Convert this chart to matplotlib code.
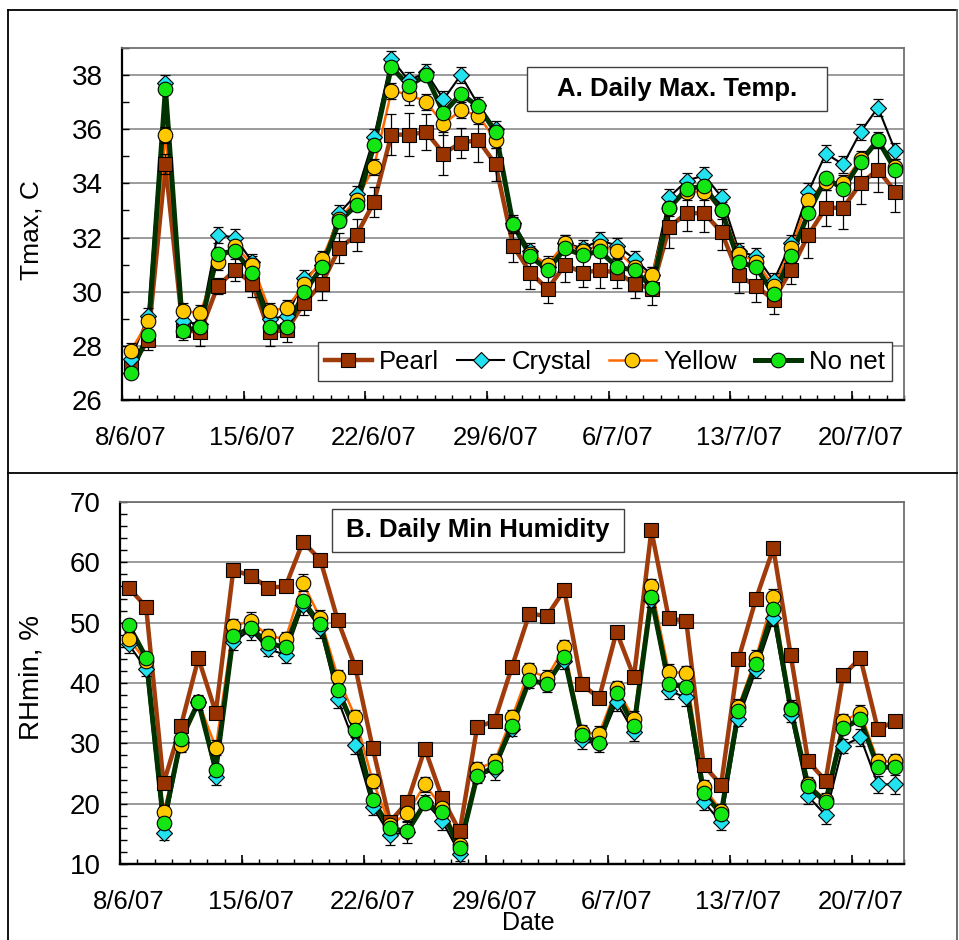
import matplotlib
matplotlib.use('Agg')
import matplotlib.pyplot as plt
from matplotlib.patches import Rectangle
from matplotlib.lines import Line2D
import numpy as np

plt.rcParams['font.family'] = ['Liberation Sans', 'DejaVu Sans']

# ---------------- data ----------------
n_days = 45  # 8/6/07 ... 22/7/07, one value per day
tick_labels = ["8/6/07", "15/6/07", "22/6/07", "29/6/07", "6/7/07", "13/7/07", "20/7/07"]
series_names = ["Pearl", "Crystal", "Yellow", "No net"]

tmax_pearl = [27.2, 28.2, 34.7, 28.6, 28.5, 30.2, 30.8, 30.3, 28.5, 28.6, 29.6, 30.3, 31.6, 32.1, 33.3,
              35.8, 35.8, 35.9, 35.1, 35.5, 35.6, 34.7, 31.7, 30.7, 30.1, 31.0, 30.7, 30.8, 30.7, 30.3,
              30.1, 32.4, 32.9, 32.9, 32.2, 30.6, 30.2, 29.7, 30.8, 32.1, 33.1, 33.1, 34.0, 34.5, 33.7]
tmax_crystal = [27.5, 29.1, 37.7, 28.9, 28.8, 32.1, 32.0, 31.1, 29.0, 29.1, 30.5, 31.0, 32.9, 33.6, 35.7,
                38.6, 37.8, 38.1, 37.1, 38.0, 36.9, 36.0, 32.55, 31.5, 30.9, 31.8, 31.6, 31.9, 31.7, 31.2,
                30.6, 33.5, 34.1, 34.3, 33.5, 31.5, 31.3, 30.4, 31.8, 33.7, 35.1, 34.7, 35.9, 36.8, 35.2]
tmax_yellow = [27.8, 28.9, 35.8, 29.3, 29.2, 31.1, 31.7, 31.0, 29.3, 29.4, 30.3, 31.2, 32.7, 33.4, 34.6,
               37.4, 37.3, 37.0, 36.2, 36.7, 36.5, 35.6, 32.45, 31.4, 31.0, 31.8, 31.5, 31.7, 31.5, 30.9,
               30.6, 33.1, 33.7, 33.7, 33.0, 31.4, 31.1, 30.2, 31.6, 33.4, 34.05, 34.0, 34.9, 35.6, 34.6]
tmax_nonet = [27.0, 28.4, 37.5, 28.55, 28.7, 31.4, 31.5, 30.7, 28.7, 28.7, 30.0, 30.9, 32.6, 33.2, 35.4,
              38.3, 37.6, 38.0, 36.6, 37.3, 36.85, 35.9, 32.5, 31.3, 30.8, 31.6, 31.35, 31.5, 30.9, 30.8,
              30.15, 33.1, 33.8, 33.9, 33.0, 31.1, 30.9, 29.9, 31.3, 32.9, 34.2, 33.8, 34.8, 35.6, 34.5]
tmax_pearl_se = [0.4, 0.37, 0.37, 0.4, 0.49, 0.3, 0.4, 0.5, 0.5, 0.45, 0.45, 0.6, 0.55, 0.6, 0.55,
                 0.75, 0.8, 0.65, 0.8, 0.55, 0.8, 0.6, 0.6, 0.6, 0.5, 0.65, 0.53, 0.67, 0.56, 0.52,
                 0.6, 0.77, 0.67, 0.69, 0.67, 0.65, 0.58, 0.52, 0.53, 0.86, 0.67, 0.79, 0.76, 0.8, 0.77]
tmax_crystal_se = [0.3, 0.3, 0.3, 0.3, 0.3, 0.3, 0.3, 0.3, 0.3, 0.3, 0.3, 0.3, 0.3, 0.3, 0.3,
                   0.3, 0.3, 0.3, 0.3, 0.3, 0.3, 0.3, 0.3, 0.3, 0.3, 0.3, 0.3, 0.3, 0.3, 0.3,
                   0.3, 0.3, 0.3, 0.3, 0.3, 0.3, 0.3, 0.3, 0.3, 0.3, 0.3, 0.3, 0.3, 0.3, 0.3]
tmax_yellow_se = [0.3, 0.3, 0.3, 0.3, 0.3, 0.3, 0.3, 0.3, 0.3, 0.3, 0.3, 0.3, 0.3, 0.3, 0.3,
                  0.3, 0.4, 0.3, 0.4, 0.3, 0.3, 0.3, 0.3, 0.3, 0.3, 0.3, 0.3, 0.3, 0.3, 0.3,
                  0.3, 0.3, 0.3, 0.3, 0.3, 0.3, 0.3, 0.3, 0.3, 0.3, 0.3, 0.3, 0.3, 0.3, 0.3]

rh_pearl = [55.8, 52.6, 23.4, 32.9, 44.1, 35.1, 58.7, 57.8, 55.8, 56.0, 63.4, 60.4, 50.4, 42.7, 29.3,
            17.0, 20.3, 29.1, 20.9, 15.4, 32.7, 33.7, 42.7, 51.5, 51.1, 55.4, 39.8, 37.5, 48.5, 41.0,
            65.3, 50.7, 50.3, 26.4, 23.1, 44.0, 53.9, 62.3, 44.6, 27.0, 23.8, 41.3, 44.1, 32.3, 33.7]
rh_crystal = [46.4, 42.3, 15.2, 30.2, 36.8, 24.5, 46.8, 48.8, 45.6, 44.7, 52.9, 49.1, 37.3, 29.7, 19.5,
              14.8, 15.3, 20.3, 17.1, 11.7, 24.6, 25.6, 32.4, 40.3, 39.9, 43.7, 30.5, 29.9, 36.8, 31.8,
              53.8, 38.7, 37.6, 20.3, 16.9, 34.0, 42.1, 50.7, 34.7, 21.2, 18.1, 29.6, 31.0, 23.2, 23.2]
rh_yellow = [47.3, 43.6, 18.7, 29.7, 36.9, 29.3, 49.4, 50.3, 47.8, 47.3, 56.6, 50.7, 41.0, 34.4, 23.8,
             16.5, 18.4, 23.2, 19.3, 13.2, 25.7, 27.0, 34.3, 42.1, 40.9, 45.9, 31.8, 31.6, 39.1, 34.1,
             56.0, 41.9, 41.6, 22.8, 18.8, 36.1, 44.2, 54.3, 35.9, 23.3, 20.6, 33.7, 35.1, 27.0, 27.0]
rh_nonet = [49.6, 44.2, 16.8, 30.7, 36.8, 25.6, 47.8, 49.1, 46.6, 45.9, 53.6, 49.7, 38.9, 32.2, 20.6,
            15.9, 15.4, 20.1, 18.6, 12.7, 24.6, 26.1, 32.9, 40.5, 39.8, 44.3, 31.3, 30.0, 38.4, 32.8,
            54.2, 39.9, 39.3, 21.8, 18.3, 35.4, 43.1, 52.2, 35.7, 22.9, 20.3, 32.5, 34.0, 26.0, 26.1]
rh_crystal_se = [1.4, 1.2, 1.2, 1.2, 1.2, 1.4, 1.4, 1.6, 1.2, 1.4, 1.6, 1.6, 1.4, 1.4, 1.4,
                 1.6, 1.8, 1.2, 1.4, 1.2, 1.2, 1.6, 1.2, 1.2, 1.4, 1.4, 1.4, 1.4, 1.4, 1.4,
                 1.2, 1.4, 1.4, 1.4, 1.2, 1.2, 1.2, 1.2, 1.2, 1.2, 1.4, 1.2, 1.4, 1.4, 1.6]
rh_yellow_se = [1.2, 1.2, 1.0, 1.2, 1.0, 1.2, 1.2, 1.4, 1.2, 1.2, 1.4, 1.4, 1.2, 1.2, 1.2,
                1.2, 1.4, 1.2, 1.2, 1.2, 1.2, 1.2, 1.2, 1.2, 1.2, 1.2, 1.2, 1.2, 1.2, 1.2,
                1.2, 1.2, 1.2, 1.2, 1.2, 1.2, 1.2, 1.2, 1.2, 1.2, 1.2, 1.2, 1.2, 1.2, 1.2]

# ---------------- styles ----------------
styles = {
    "Pearl":   dict(lc='#A03C0C', lw=3.2, marker='s', face='#993300', ms=9.5),
    "Crystal": dict(lc='#000000', lw=1.5, marker='D', face='#22E2F0', ms=8.5),
    "Yellow":  dict(lc='#FF6A00', lw=1.8, marker='o', face='#FFC800', ms=10.5),
    "No net":  dict(lc='#003300', lw=3.6, marker='o', face='#14E614', ms=10.5),
}

W, H = 959, 940
fig = plt.figure(figsize=(W / 100, H / 100), dpi=100)
fig.patch.set_facecolor('white')

ax1 = fig.add_axes([122 / W, 1 - 400 / H, 782 / W, 352 / H])
ax2 = fig.add_axes([120 / W, 1 - 864 / H, 784 / W, 362 / H])

x = np.arange(n_days)
label_pos = np.arange(0, n_days, 7)
bounds = np.arange(n_days + 1) - 0.5


def style_axes(ax, ymin, ymax, major, minor):
    ax.set_xlim(-0.5, n_days - 0.5)
    ax.set_ylim(ymin, ymax)
    ax.set_yticks(np.arange(ymin, ymax + 0.001, major))
    ax.set_yticks(np.arange(ymin, ymax + 0.001, minor), minor=True)
    ax.yaxis.grid(True, which='major', color='#808080', lw=1.1)
    ax.set_axisbelow(True)
    ax.tick_params(axis='y', which='both', direction='in', length=5, width=1.0,
                   labelsize=20, pad=14, colors='black')
    ax.set_xticks(label_pos)
    ax.set_xticklabels(tick_labels)
    ax.tick_params(axis='x', which='major', length=0, labelsize=18.5, pad=19)
    ax.set_xticks(bounds, minor=True)
    ax.tick_params(axis='x', which='minor', direction='in', length=3.6, width=1.0)
    sec = ax.secondary_xaxis('bottom')
    sec.set_xticks(bounds[::7])
    sec.tick_params(direction='in', length=6.5, width=1.2, labelbottom=False)
    sec.spines['bottom'].set_linewidth(1.6)
    for s in ['left', 'bottom']:
        ax.spines[s].set_color('black')
        ax.spines[s].set_linewidth(1.6)
    for s in ['top', 'right']:
        ax.spines[s].set_color('#707070')
        ax.spines[s].set_linewidth(1.3)


def draw(ax, data, errs):
    for name, y in zip(series_names, data):
        st = styles[name]
        ax.plot(x, y, color=st['lc'], lw=st['lw'], zorder=2, solid_joinstyle='round')
    for name, y in zip(series_names, data):
        if name in errs:
            ax.errorbar(x, y, yerr=errs[name], fmt='none', ecolor='black', elinewidth=0.9,
                        capsize=3.3, capthick=0.9, zorder=2.5)
    for k, (name, y) in enumerate(zip(series_names, data)):
        st = styles[name]
        ax.plot(x, y, ls='none', marker=st['marker'], mfc=st['face'], mec='black', mew=0.8,
                ms=st['ms'], zorder=3 + k, clip_on=False)


style_axes(ax1, 26, 39, 2, 1)
ax1.set_yticks(np.arange(26, 38.001, 2))
draw(ax1, [tmax_pearl, tmax_crystal, tmax_yellow, tmax_nonet],
     {"Pearl": tmax_pearl_se, "Crystal": tmax_crystal_se, "Yellow": tmax_yellow_se})

style_axes(ax2, 10, 70, 10, 2)
draw(ax2, [rh_pearl, rh_crystal, rh_yellow, rh_nonet],
     {"Crystal": rh_crystal_se, "Yellow": rh_yellow_se})

# legend (top panel)
handles = []
for name in series_names:
    st = styles[name]
    handles.append(Line2D([], [], color=st['lc'], lw=st['lw'], marker=st['marker'],
                          mfc=st['face'], mec='black', mew=0.8, ms=st['ms']))
leg = ax1.legend(handles, series_names, loc='center', bbox_to_anchor=(0.6177, 0.109), ncol=4,
                 fontsize=18.5, handlelength=1.8, handletextpad=0.3, columnspacing=0.7,
                 borderpad=0.3, frameon=True, fancybox=False, framealpha=1)
leg.get_frame().set_edgecolor('#404040')
leg.get_frame().set_linewidth(1.0)
leg.set_zorder(10)

# panel titles
ax1.add_patch(Rectangle((0.5179, 0.821), 0.3836, 0.125, transform=ax1.transAxes,
                        facecolor='white', edgecolor='#404040', lw=1.0, zorder=8))
ax1.text(0.7097, 0.8835, 'A. Daily Max. Temp.', transform=ax1.transAxes, ha='center', va='center',
         fontsize=18.5, fontweight='bold', zorder=9)
ax2.add_patch(Rectangle((0.2704, 0.8619), 0.3724, 0.1188, transform=ax2.transAxes,
                        facecolor='white', edgecolor='#404040', lw=1.0, zorder=8))
ax2.text(0.4566, 0.9213, 'B. Daily Min Humidity', transform=ax2.transAxes, ha='center', va='center',
         fontsize=18.5, fontweight='bold', zorder=9)

# axis labels
fig.text(32 / W, 1 - 230 / H, 'Tmax, C', rotation=90, ha='center', va='center', fontsize=19)
fig.text(31 / W, 1 - 678 / H, 'RHmin, %', rotation=90, ha='center', va='center', fontsize=20)
fig.text(528 / W, 1 - 923 / H, 'Date', ha='center', va='center', fontsize=18)

# outer chart frames
def fline(x0, y0, x1, y1, color='black', lw=1.3):
    fig.add_artist(Line2D([x0 / W, x1 / W], [1 - y0 / H, 1 - y1 / H], transform=fig.transFigure,
                          color=color, lw=lw))

fline(8, 10, 957, 10)
fline(8, 10, 8, 940)
fline(957, 10, 957, 940, color='#606060')
fline(8, 473, 957, 473)

fig.savefig('out.png', dpi=100, facecolor='white')
